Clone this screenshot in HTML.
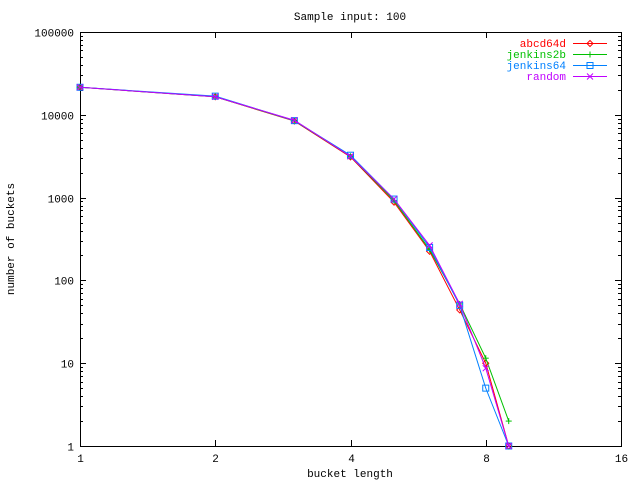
<!DOCTYPE html>
<html><head><style>body{margin:0;background:#fff}svg{display:block}text{font-family:"Liberation Mono",monospace;font-size:11px}</style></head>
<body>
<svg id="s" width="640" height="480" xmlns="http://www.w3.org/2000/svg">
<rect width="640" height="480" fill="#fff"/>
<text x="350" y="20" text-anchor="middle">Sample input: 100</text>
<text x="350" y="477" text-anchor="middle">bucket length</text>
<text transform="translate(14,239) rotate(-90)" text-anchor="middle">number of buckets</text>
<g id="ax" stroke="#000" stroke-width="1" fill="none"></g>
<g id="lb"></g>
<g id="data" fill="none" stroke-width="1"></g>
</svg>
<script>
var X0=80,X1=621,Y0=32,Y1=446,ns="http://www.w3.org/2000/svg";
var ax=document.getElementById('ax'),lb=document.getElementById('lb'),dg=document.getElementById('data');
function el(t,a,p){var e=document.createElementNS(ns,t);for(var k in a)e.setAttribute(k,a[k]);p.appendChild(e);return e;}
function ln(x1,y1,x2,y2,p,c){el('line',{x1:x1,y1:y1,x2:x2,y2:y2,stroke:c||'#000'},p);}
el('rect',{x:X0+.5,y:Y0+.5,width:X1-X0,height:Y1-Y0},ax);
var dy=(Y1-Y0)/5;
for(var d=0;d<=5;d++){var y=Math.round(Y1-d*dy)+.5;
 ln(X0,y,X0+6,y,ax);ln(X1,y,X1-6,y,ax);
 var t=el('text',{x:X0-6,y:y+4,'text-anchor':'end'},lb);t.textContent=Math.pow(10,d);
 if(d<5)for(var m=2;m<10;m++){var ym=Math.round(Y1-(d+Math.log10(m))*dy)+.5;ln(X0,ym,X0+3,ym,ax);ln(X1,ym,X1-3,ym,ax);}}
var dx=(X1-X0)/4;
for(var i=0;i<=4;i++){var x=Math.round(X0+i*dx)+.5;ln(x,Y1,x,Y1-6,ax);ln(x,Y0,x,Y0+6,ax);
 var t=el('text',{x:x,y:Y1+16,'text-anchor':'middle'},lb);t.textContent=Math.pow(2,i);}
function px(n){return X0+Math.log2(n)*dx;}
function py(v){return Y1-Math.log10(v)*dy;}
var S=[
 ['abcd64d','#ff0000',[21500,16500,8400,3100,880,225,44,10,1],'d'],
 ['jenkins2b','#00c000',[21500,16500,8500,3150,920,235,52,11.5,2],'+'],
 ['jenkins64','#0080ff',[21500,16800,8500,3250,960,250,50,5,1],'s'],
 ['random','#c000ff',[21500,16500,8600,3150,960,265,52,8.7,1],'x']];
function mk(x,y,type,c){
 if(type=='d')el('path',{d:'M'+(x-3)+' '+y+'L'+x+' '+(y-3)+'L'+(x+3)+' '+y+'L'+x+' '+(y+3)+'Z',stroke:c},dg);
 if(type=='+'){ln(x-3,y,x+3,y,dg,c);ln(x,y-3,x,y+3,dg,c);}
 if(type=='s')el('rect',{x:x-3,y:y-3,width:6,height:6,stroke:c},dg);
 if(type=='x'){ln(x-3,y-3,x+3,y+3,dg,c);ln(x-3,y+3,x+3,y-3,dg,c);}
}
S.forEach(function(s,k){
 var pts=s[2].map(function(v,i){return [px(i+1),py(v)];});
 el('polyline',{points:pts.map(function(p){return p.join(',')}).join(' '),stroke:s[1]},dg);
 pts.forEach(function(p){mk(p[0],p[1],s[3],s[1]);});
 var ly=43+k*11;
 var t=el('text',{x:566,y:ly+4,'text-anchor':'end',fill:s[1]},lb);t.textContent=s[0];
 ln(573,ly+.5,607,ly+.5,dg,s[1]);mk(590,ly+.5,s[3],s[1]);
});
</script>
</body></html>
